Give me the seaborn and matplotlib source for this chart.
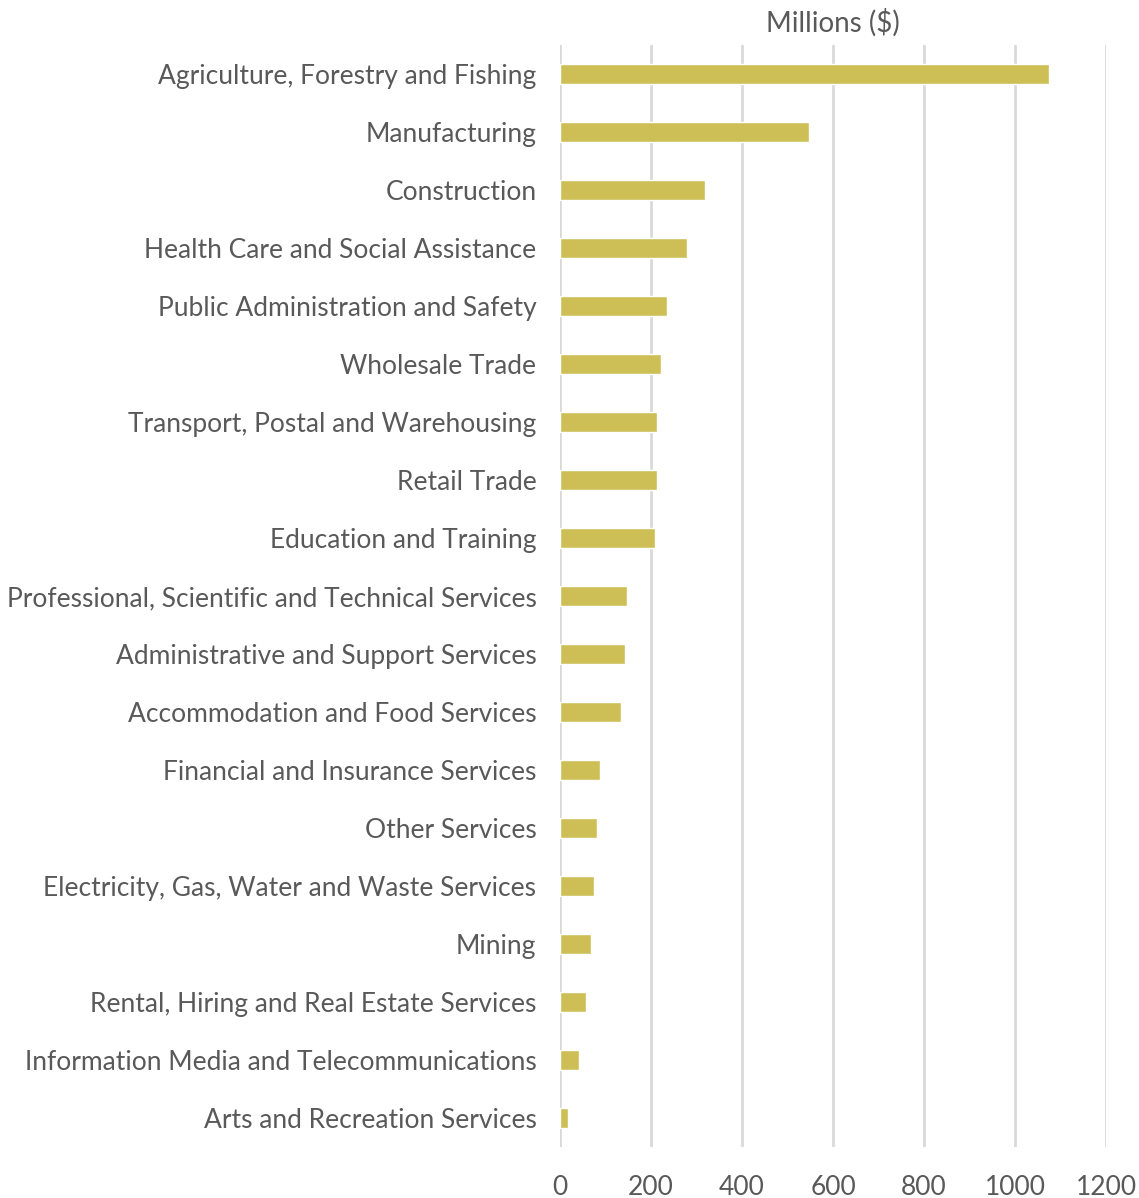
import seaborn as sns
import matplotlib.pyplot as plt
import pandas as pd

industries = [
    'Agriculture, Forestry and Fishing',
    'Manufacturing',
    'Construction',
    'Health Care and Social Assistance',
    'Public Administration and Safety',
    'Wholesale Trade',
    'Transport, Postal and Warehousing',
    'Retail Trade',
    'Education and Training',
    'Professional, Scientific and Technical Services',
    'Administrative and Support Services',
    'Accommodation and Food Services',
    'Financial and Insurance Services',
    'Other Services',
    'Electricity, Gas, Water and Waste Services',
    'Mining',
    'Rental, Hiring and Real Estate Services',
    'Information Media and Telecommunications',
    'Arts and Recreation Services',
]
values = [1075, 548, 318, 278, 235, 221, 212, 212, 209, 148, 142, 135,
          88, 82, 75, 68, 58, 42, 18]
x_ticks = [0, 200, 400, 600, 800, 1000, 1200]

df = pd.DataFrame({'industry': industries, 'millions': values})

sns.set_style('white')
plt.rcParams['font.family'] = ['Lato', 'DejaVu Sans']
text_col = '#595959'

fig = plt.figure(figsize=(11.39, 11.98), dpi=100)
ax = fig.add_axes([0.4917, 0.0425, 0.4794, 0.92])

sns.barplot(data=df, x='millions', y='industry', orient='h', color='#CDBF55',
            width=0.35, saturation=1, ax=ax, zorder=3)

ax.set_xlim(0, 1200)
ax.set_ylim(18.5, -0.5)
ax.set_xticks(x_ticks)
ax.set_xticklabels([str(t) for t in x_ticks])
ax.grid(axis='x', color='#D9D9D9', linewidth=2, zorder=0)
for s in ax.spines.values():
    s.set_visible(False)
ax.tick_params(axis='x', length=0, pad=20, labelsize=19, labelcolor=text_col)
ax.tick_params(axis='y', length=0, pad=17, labelsize=19, labelcolor=text_col)
ax.set_xlabel('')
ax.set_ylabel('')
fig.text(0.7315, 0.981, 'Millions ($)', ha='center', va='center',
         fontsize=20, color=text_col)

fig.savefig('out.png', dpi=100)
